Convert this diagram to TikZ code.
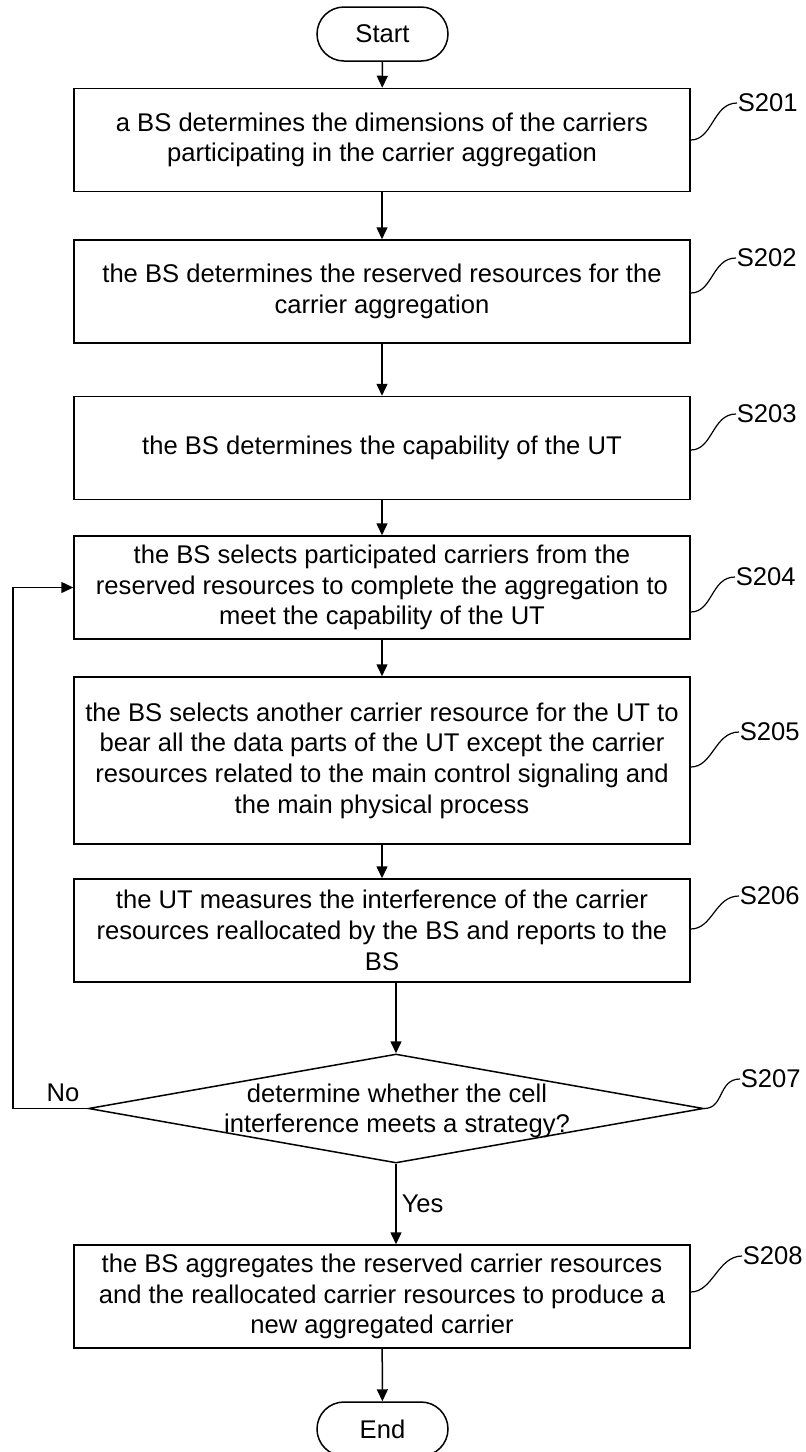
\documentclass[tikz,border=0pt]{standalone}
\usepackage{fontspec}
\setmainfont{Liberation Sans}
\usepackage{tikz}
\usetikzlibrary{positioning, shapes.geometric, arrows.meta}
\tikzstyle{block} = [rectangle, draw, fill=white, align=center, inner sep=1pt,
                 minimum width=308pt, minimum height=51.5pt]
\tikzstyle{terminal} = [rectangle, draw, rounded corners=13.5pt, inner sep=0pt,
                 minimum width=65.5pt, minimum height=27pt]
\tikzstyle{decision} = [diamond, draw, inner sep=0pt,
                 minimum width=307.5pt, minimum height=54.5pt]
\tikzstyle{flow} = [draw, -{Triangle[length=6pt,width=5.5pt]}]
\tikzset{
	leader/.style={draw, line width=0.6pt},
	steplabel/.style={anchor=west, inner sep=0pt},
}

\begin{document}
\begin{tikzpicture}[x=0.5pt, y=-0.5pt, line width=0.75pt,
	font=\fontsize{12.8pt}{15.35pt}\selectfont]
\useasboundingbox (0,0) rectangle (806,1452);

\node [terminal] at (382.5,34) (start) {Start};
\node [block] at (382,140) (s201) {a BS determines the dimensions of the carriers\\participating in the carrier aggregation};
\node [block] at (382,291.5) (s202) {the BS determines the reserved resources for the\\carrier aggregation};
\node [block] at (382,448) (s203) {the BS determines the capability of the UT};
\node [block] at (382,587.5) (s204) {the BS selects participated carriers from the\\reserved resources to complete the aggregation to\\meet the capability of the UT};
\node [block, minimum height=83.5pt] at (382,760.5) (s205) {the BS selects another carrier resource for the UT to\\bear all the data parts of the UT except the carrier\\resources related to the main control signaling and\\the main physical process};
\node [block] at (382,930.5) (s206) {the UT measures the interference of the carrier\\resources reallocated by the BS and reports to the\\BS};
\node [decision] at (396,1108.5) (s207) {};
\node [align=center, inner sep=0pt] at (397,1111) (s207text) {determine whether the cell\\interference meets a strategy?};
\node [block] at (382,1296.5) (s208) {the BS aggregates the reserved carrier resources\\and the reallocated carrier resources to produce a\\new aggregated carrier};
\node [terminal] at (382.5,1429) (end) {End};

% main flow
\foreach \a/\b in {start/s201, s201/s202, s202/s203, s203/s204, s204/s205, s205/s206, s208/end}
	\path [flow] (\a) -- (\b);
\path [flow] (s206.south -| s207.north) -- (s207.north);
\path [flow] (s207.south) -- node [anchor=west, inner sep=2.5pt] (yes) {Yes} (s208.north -| s207.south);
\path [flow] (s207.west) -- ++(-75,0) |- (s204.west);
\node at (63,1093) (no) {No};

% step numbers
\foreach \n/\x/\y/\sy in {201/737/103/140, 202/736/258/293, 203/736/414/450, 204/735/577/612,
		205/739/732/767, 206/739/896/929, 208/742/1256/1292}
{
	\node [steplabel] at (\x,\y) (l\n) {S\n};
	\path [leader] (s\n.east |- 0,\sy) .. controls +(22,0) and +(-24,0) .. (l\n.west);
}
\node [steplabel] at (740,1079) (l207) {S207};
\path [leader] (s207.east) .. controls +(20,0) and +(-22,0) .. (l207.west);

\end{tikzpicture}
\end{document}
